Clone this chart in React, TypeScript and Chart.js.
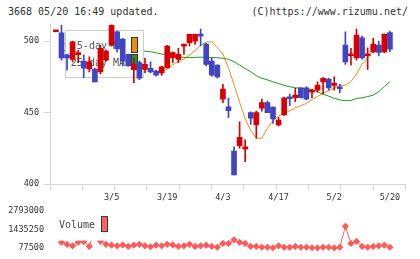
import { useEffect, useRef } from 'react';
import { Chart, registerables } from 'chart.js';

Chart.register(...registerables);

const dates = [
  '2/19', '2/20', '2/21', '2/22', '2/26', '2/27', '2/28', '2/29', '3/1', '3/4',
  '3/5', '3/6', '3/7', '3/8', '3/11', '3/12', '3/13', '3/14', '3/15', '3/18',
  '3/19', '3/21', '3/22', '3/25', '3/26', '3/27', '3/28', '3/29', '4/1', '4/2',
  '4/3', '4/4', '4/5', '4/8', '4/9', '4/10', '4/11', '4/12', '4/15', '4/16',
  '4/17', '4/18', '4/19', '4/22', '4/23', '4/24', '4/25', '4/26', '4/30', '5/1',
  '5/2', '5/7', '5/8', '5/9', '5/10', '5/13', '5/14', '5/15', '5/16', '5/17',
  '5/20',
];

const opens = [
  506.6, 505.8, 490.5, 487.2, 490.6, 486, 480.5, 480.5, 478.5, 486.7,
  497, 506.5, 501.5, 490.7, 480.2, 485, 480.2, 481, 479, 477.8,
  481.4, 488.4, 487.2, 496.5, 499, 500, 504.5, 498, 486, 483.2,
  459.4, 454, 423, 426.8, 424.6, 450, 441.3, 453, 457, 453.8,
  441.3, 448.3, 460.3, 460.4, 467.3, 467.3, 464.3, 465.7, 471.5, 473.4,
  469, 467.3, 497.2, 489.8, 488.3, 502.3, 489.8, 492.5, 497.2, 492.5,
  506,
];
const highs = [
  507.2, 511, 491, 500, 493.5, 490.5, 489, 481, 497, 494,
  511.5, 507, 502, 491, 488, 486, 488, 485.5, 479.5, 482.5,
  497, 492.5, 495, 498, 505, 505, 508.4, 498.5, 488.3, 483.5,
  469.7, 460, 426, 443.6, 431, 450.5, 451, 459.4, 458, 454,
  446.6, 460.5, 463, 467, 467.5, 468, 466.5, 471.5, 474.5, 474,
  475, 469.7, 506.5, 495, 508.4, 503.5, 495.3, 502, 500, 505,
  507,
];
const lows = [
  506.4, 486.7, 479.7, 485.5, 485, 474.5, 478.5, 471.5, 477, 486,
  496.5, 492.5, 482.7, 482.5, 471, 473, 478, 477.8, 475.5, 476,
  481, 485, 485, 490.7, 496.7, 497.7, 496.7, 482.7, 475.5, 474,
  457, 446.4, 406.3, 425, 415.6, 441.7, 432, 451, 450, 442.4,
  440.6, 448, 454.8, 457.6, 460, 459, 460.4, 464.5, 463, 465.7,
  465.7, 463.8, 483.7, 483.2, 486.7, 487.4, 480.2, 492, 489.7, 492,
  492.5,
];
const closes = [
  507, 488.3, 488.3, 499.5, 491, 481, 485.5, 471.5, 495, 493,
  511, 494.5, 486, 482.7, 483.7, 474, 483.7, 478.5, 476.2, 482,
  496.5, 492, 490.7, 497.7, 504.7, 504.7, 503.5, 483.7, 476.2, 475,
  466.4, 451.3, 406.3, 432.7, 425, 446, 450, 457, 450, 445.5,
  444.8, 460.4, 459.7, 462.2, 460.4, 459.4, 464.8, 469.2, 473.9, 467.3,
  469.5, 466.7, 485.5, 490.4, 504.2, 488.3, 490.4, 497.9, 492.1, 504.9,
  494.4,
];

const ma5 = [
  null, 500, 497, 494, 493, 490, 488, 484, 485, 486,
  490, 493, 496, 494, 488, 483.2, 481.7, 479.6, 478.8, 478.7,
  480.3, 483.4, 486.0, 487.5, 490.0, 493.6, 497.1, 499.4, 499.5, 495.5,
  491.0, 481.3, 469.5, 457.1, 445.7, 437.6, 432.0, 432.0, 439.2, 444.4,
  447.6, 449.7, 451.2, 453.4, 454.9, 456.4, 459.1, 461.3, 463.4, 465.3,
  467.2, 468.9, 469.2, 471.7, 476.9, 483.9, 488.5, 492.3, 494.8, 495.8,
  496.5,
];
const ma25 = [
  null, 493.2, 493.5, 493.8, 494, 494, 494.2, 494, 493.8, 493.9,
  494.2, 494.4, 494.2, 493.9, 493.6, 493.3, 493.0, 492.6, 491.8, 491.0,
  490.6, 489.9, 489.2, 488.6, 488.6, 488.6, 488.8, 488.6, 488.5, 488.4,
  488.0, 487.3, 485.7, 483.2, 480.8, 478.5, 475.9, 474.0, 472.9, 471.5,
  470.3, 469.0, 468.1, 467.4, 466.9, 466.7, 465.9, 464.5, 462.9, 461.5,
  460.0, 458.9, 458.3, 458.4, 459.9, 460.3, 461.2, 462.2, 464.7, 468.2,
  471.7,
];

const volumes = [
  null, 495000, 342000, 230000, 495000, 541000, 190000, 1580000, 561000, 342000,
  276000, 230000, 296000, 190000, 276000, 342000, 230000, 164000, 276000, 230000,
  342000, 296000, 190000, 230000, 342000, 190000, 230000, 276000, 190000, 124000,
  409000, 409000, 674000, 495000, 409000, 190000, 190000, 124000, 124000, 90000,
  230000, 124000, 124000, 190000, 124000, 124000, 90000, 85000, 124000, 124000,
  77500, 124000, 1667000, 409000, 561000, 190000, 124000, 190000, 230000, 276000,
  124000,
];

const xTickLabels = ['3/5', '3/19', '4/3', '4/17', '5/2', '5/20'];
const priceTicks = [400, 450, 500];
const volumeTicks = [77500, 1435250, 2793000];
const gridTicks = [0, 1, 2, 3, 4, 5, 6, 7, 8, 9, 10, 11];

const RED = '#d80000';
const BLUE = '#4045c4';
const ORANGE = '#f08c10';
const GREEN = '#18a018';
const VOL = '#ff5a5a';
const AXIS = '#d6d6d6';
const TEXT = '#333333';
const MONO = "'DejaVu Sans Mono', monospace";
const X_MIN = -1.06;
const X_MAX = 62.8;

const candleColors = opens.map((o, i) => (closes[i] >= o ? RED : BLUE));

const maLegend: any = {
  id: 'maLegend',
  beforeDatasetDraw(chart: any, args: any) {
    if (chart.data.datasets[args.index].label !== 'wick') return;
    const { ctx, chartArea } = chart;
    const x0 = chartArea.left + 15.5;
    const y0 = chartArea.top + 6.5;
    ctx.save();
    ctx.fillStyle = '#ffffff';
    ctx.fillRect(x0, y0, 78, 47);
    ctx.strokeStyle = '#cccccc';
    ctx.lineWidth = 1;
    ctx.strokeRect(x0, y0, 78, 47);
    ctx.font = `10px ${MONO}`;
    ctx.textAlign = 'right';
    ctx.textBaseline = 'middle';
    const items = [
      { t: '5-day MA', c: ORANGE },
      { t: '25-day MA', c: GREEN },
    ];
    items.forEach((it, k) => {
      const cy = y0 + 15.5 + k * 17;
      ctx.fillStyle = '#555555';
      ctx.fillText(it.t, x0 + 59.5, cy);
      ctx.fillStyle = it.c;
      ctx.fillRect(x0 + 66, cy - 8.5, 6, 15);
      ctx.strokeStyle = '#333333';
      ctx.strokeRect(x0 + 66, cy - 8.5, 6, 15);
    });
    ctx.restore();
  },
};

const volLegend: any = {
  id: 'volLegend',
  afterDatasetsDraw(chart: any) {
    const { ctx, chartArea } = chart;
    const x0 = chartArea.left + 5;
    const y0 = chartArea.top - 2;
    ctx.save();
    ctx.fillStyle = '#ffffff';
    ctx.fillRect(x0, y0, 55, 31.5);
    ctx.font = `10px ${MONO}`;
    ctx.textAlign = 'left';
    ctx.textBaseline = 'middle';
    ctx.fillStyle = '#444444';
    ctx.fillText('Volume', chartArea.left + 9, chartArea.top + 14);
    ctx.fillStyle = '#ff6262';
    ctx.fillRect(chartArea.left + 51.5, chartArea.top + 5.5, 6, 15);
    ctx.strokeStyle = '#333333';
    ctx.lineWidth = 1;
    ctx.strokeRect(chartArea.left + 51.5, chartArea.top + 5.5, 6, 15);
    ctx.restore();
  },
};

export default function App() {
  const mainRef = useRef<HTMLCanvasElement>(null);
  const volRef = useRef<HTMLCanvasElement>(null);

  useEffect(() => {
    const tickFont = { family: MONO, size: 8.5 };
    const xTickIdx = xTickLabels.map((l) => dates.indexOf(l));

    const main = new Chart(mainRef.current as HTMLCanvasElement, {
      type: 'bar',
      data: {
        datasets: [
          {
            type: 'line',
            label: '5-day MA',
            data: ma5.map((v, i) => ({ x: i, y: v })),
            borderColor: ORANGE,
            borderWidth: 1,
            pointRadius: 0,
            tension: 0,
            order: 4,
            xAxisID: 'x',
            yAxisID: 'y',
          },
          {
            type: 'line',
            label: '25-day MA',
            data: ma25.map((v, i) => ({ x: i, y: v })),
            borderColor: GREEN,
            borderWidth: 1,
            pointRadius: 0,
            tension: 0,
            order: 3,
            xAxisID: 'x',
            yAxisID: 'y',
          },
          {
            type: 'bar',
            label: 'wick',
            data: lows.map((l, i) => ({ x: i, y: [l, highs[i]] })),
            backgroundColor: candleColors,
            barThickness: 1,
            grouped: false,
            order: 2,
            xAxisID: 'x',
            yAxisID: 'y',
          },
          {
            type: 'bar',
            label: 'body',
            data: opens.map((o, i) => ({ x: i, y: [o, closes[i]] })),
            backgroundColor: candleColors,
            barThickness: 5,
            minBarLength: 2,
            grouped: false,
            order: 1,
            xAxisID: 'x',
            yAxisID: 'y',
          },
        ] as any,
      },
      options: {
        animation: false,
        responsive: false,
        maintainAspectRatio: false,
        events: [],
        layout: { padding: { top: 24, right: 14.5, left: 0, bottom: 0 } },
        plugins: { legend: { display: false }, tooltip: { enabled: false } },
        scales: {
          x: {
            type: 'linear',
            position: 'bottom',
            min: X_MIN,
            max: X_MAX,
            bounds: 'data',
            offset: false,
            weight: 1,
            grid: { display: false, drawTicks: false, offset: false },
            border: { display: false },
            afterBuildTicks: (ax: any) => {
              ax.ticks = xTickIdx.map((v) => ({ value: v }));
            },
            afterFit: (s: any) => {
              s.height = 20;
            },
            ticks: {
              autoSkip: false,
              maxRotation: 0,
              padding: 3,
              font: tickFont,
              color: TEXT,
              callback: (_v: any, idx: number) => xTickLabels[idx],
            },
          },
          xg: {
            type: 'linear',
            position: 'bottom',
            min: 0,
            max: 11,
            bounds: 'data',
            offset: false,
            weight: 0,
            grid: { drawOnChartArea: false, drawTicks: true, tickLength: 6, color: AXIS, offset: false },
            border: { display: true, color: AXIS },
            ticks: { display: false },
            afterBuildTicks: (ax: any) => {
              ax.ticks = gridTicks.map((v) => ({ value: v }));
            },
            afterFit: (s: any) => {
              s.height = 6;
            },
          },
          y: {
            type: 'linear',
            position: 'left',
            min: 400,
            max: 512,
            bounds: 'data',
            beginAtZero: false,
            grid: { drawOnChartArea: false, drawTicks: true, tickLength: 6, color: AXIS },
            border: { display: true, color: AXIS },
            afterBuildTicks: (ax: any) => {
              ax.ticks = priceTicks.map((v) => ({ value: v }));
            },
            afterFit: (s: any) => {
              s.width = 50;
            },
            ticks: {
              padding: 5,
              font: tickFont,
              color: TEXT,
              callback: (v: any) => String(v),
            },
          },
        } as any,
      },
      plugins: [maLegend],
    });

    const vol = new Chart(volRef.current as HTMLCanvasElement, {
      type: 'line',
      data: {
        datasets: [
          {
            label: 'Volume',
            data: volumes.map((v, i) => ({ x: i, y: v })),
            borderColor: VOL,
            backgroundColor: VOL,
            borderWidth: 1,
            pointStyle: 'rectRot',
            pointRadius: 3.6,
            pointBorderWidth: 0,
            pointBackgroundColor: VOL,
            tension: 0,
            clip: false,
          },
        ] as any,
      },
      options: {
        animation: false,
        responsive: false,
        maintainAspectRatio: false,
        events: [],
        layout: { padding: { top: 8, right: 14.5, left: 0, bottom: 10 } },
        plugins: { legend: { display: false }, tooltip: { enabled: false } },
        scales: {
          x: {
            type: 'linear',
            display: false,
            min: X_MIN,
            max: X_MAX,
            bounds: 'data',
          },
          y: {
            type: 'linear',
            position: 'left',
            min: volumeTicks[0],
            max: volumeTicks[2],
            bounds: 'data',
            grid: { display: false, drawTicks: false },
            border: { display: false },
            afterBuildTicks: (ax: any) => {
              ax.ticks = volumeTicks.map((v) => ({ value: v }));
            },
            afterFit: (s: any) => {
              s.width = 50;
            },
            ticks: {
              padding: 6,
              font: tickFont,
              color: TEXT,
              callback: (v: any) => String(v),
            },
          },
        } as any,
      },
      plugins: [volLegend],
    });

    return () => {
      main.destroy();
      vol.destroy();
    };
  }, []);

  const titleStyle: any = {
    position: 'absolute',
    top: 6,
    fontFamily: MONO,
    fontSize: 10,
    lineHeight: '12px',
    color: TEXT,
    whiteSpace: 'pre',
  };

  return (
    <div style={{ position: 'fixed', left: 0, top: 0, width: 420, height: 259, background: '#ffffff', overflow: 'hidden' }}>
      <div style={{ ...titleStyle, left: 8 }}>3668 05/20 16:49 updated.</div>
      <div style={{ ...titleStyle, right: 12 }}>(C)https://www.rizumu.net/</div>
      <canvas ref={mainRef} width={420} height={210} style={{ position: 'absolute', left: 0, top: 0, width: 420, height: 210 }} />
      <canvas ref={volRef} width={420} height={59} style={{ position: 'absolute', left: 0, top: 200, width: 420, height: 59 }} />
    </div>
  );
}
